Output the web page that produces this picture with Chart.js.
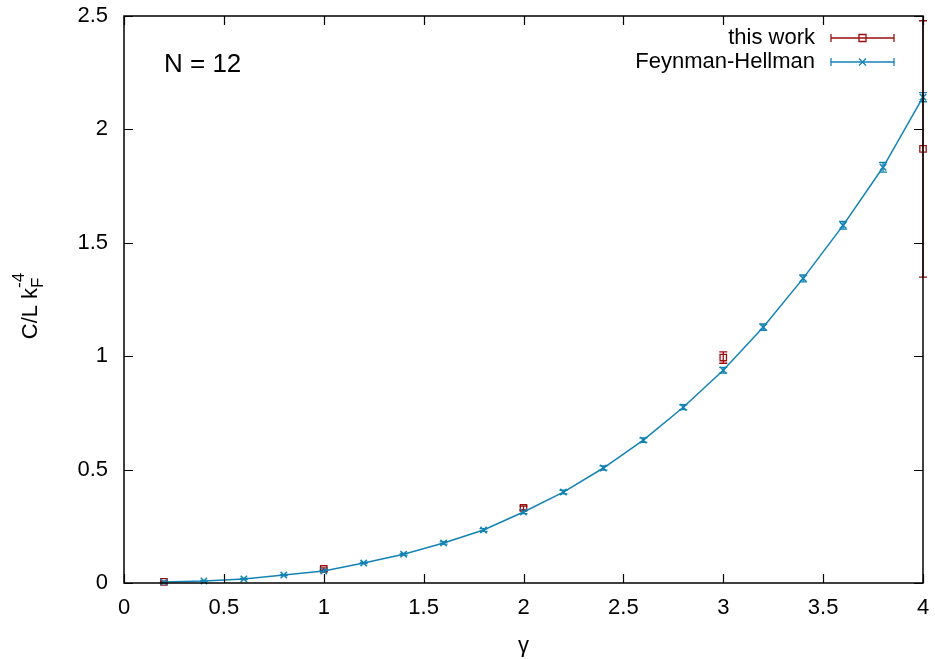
<!DOCTYPE html>
<html>
<head>
<meta charset="utf-8">
<script src="https://cdn.jsdelivr.net/npm/chart.js@4"></script>
<style>
  html, body { margin:0; padding:0; background:#fff; }
  #wrap { width:935px; height:659px; }
</style>
</head>
<body>
<div id="wrap"><canvas id="plot"></canvas></div>
<script>
// Feynman-Hellman series
const fhGamma = [0.2,0.4,0.6,0.8,1.0,1.2,1.4,1.6,1.8,2.0,2.2,2.4,2.6,2.8,3.0,3.2,3.4,3.6,3.8,4.0];
const fhC     = [0.004,0.009,0.018,0.035,0.053,0.088,0.127,0.176,0.234,0.313,0.401,0.507,0.630,0.775,0.938,1.128,1.343,1.577,1.833,2.142];
const fhErr   = [0.001,0.001,0.002,0.002,0.003,0.003,0.004,0.005,0.006,0.007,0.008,0.009,0.010,0.011,0.013,0.014,0.015,0.017,0.021,0.020];
// this work
const twGamma = [0.2,1.0,2.0,3.0,4.0];
const twC     = [0.005,0.062,0.331,0.994,1.914];
const twErr   = [0.003,0.005,0.008,0.025,0.565];

const xTicks = [0,0.5,1,1.5,2,2.5,3,3.5,4];
const yTicks = [0,0.5,1,1.5,2,2.5];

const RED = '#9a0f0f';
const BLUE = '#1283b4';
const FONT = '"Liberation Sans", Arial, sans-serif';

function pts(xs, ys){ return xs.map((x,i)=>({x:x, y:ys[i]})); }

// error bars, frame, inward ticks, tick labels, legend, titles
const gnuplotLook = {
  id:'gnuplotLook',
  beforeDatasetsDraw(chart){
    const ctx = chart.ctx, xs = chart.scales.x, ys = chart.scales.y;
    chart.data.datasets.forEach(ds=>{
      if(!ds.err) return;
      ctx.save();
      ctx.strokeStyle = ds.borderColor;
      ctx.lineWidth = 1.3;
      ds.data.forEach((p,i)=>{
        const px = xs.getPixelForValue(p.x);
        const y1 = ys.getPixelForValue(p.y + ds.err[i]);
        const y2 = ys.getPixelForValue(p.y - ds.err[i]);
        ctx.beginPath();
        ctx.moveTo(px,y1); ctx.lineTo(px,y2);
        ctx.moveTo(px-4,y1); ctx.lineTo(px+4,y1);
        ctx.moveTo(px-4,y2); ctx.lineTo(px+4,y2);
        ctx.stroke();
      });
      ctx.restore();
    });
  },
  afterDraw(chart){
    const ctx = chart.ctx, a = chart.chartArea;
    const xs = chart.scales.x, ys = chart.scales.y;
    ctx.save();
    ctx.strokeStyle = '#000';
    ctx.lineWidth = 1.5;
    ctx.strokeRect(a.left, a.top, a.right-a.left, a.bottom-a.top);
    ctx.beginPath();
    xTicks.forEach(v=>{
      const px = Math.round(xs.getPixelForValue(v))+0.5;
      ctx.moveTo(px,a.bottom); ctx.lineTo(px,a.bottom-9);
      ctx.moveTo(px,a.top); ctx.lineTo(px,a.top+9);
    });
    yTicks.forEach(v=>{
      const py = Math.round(ys.getPixelForValue(v))+0.5;
      ctx.moveTo(a.left,py); ctx.lineTo(a.left+9,py);
      ctx.moveTo(a.right,py); ctx.lineTo(a.right-9,py);
    });
    ctx.lineWidth = 1.2;
    ctx.stroke();

    // tick labels
    ctx.fillStyle = '#000';
    ctx.font = '22px ' + FONT;
    ctx.textAlign = 'center'; ctx.textBaseline = 'middle';
    xTicks.forEach(v=>{
      ctx.fillText(String(v), xs.getPixelForValue(v), a.bottom + 25);
    });
    ctx.textAlign = 'right';
    yTicks.forEach(v=>{
      ctx.fillText(String(v), a.left - 16, ys.getPixelForValue(v));
    });

    // N = 12
    ctx.font = '26px ' + FONT;
    ctx.textAlign = 'left'; ctx.textBaseline = 'alphabetic';
    ctx.fillText('N = 12', 164, 72);

    // legend
    const rows = [
      {label:'this work', color:RED, y:38, mk:'sq'},
      {label:'Feynman-Hellman', color:BLUE, y:62, mk:'x'}
    ];
    ctx.font = '22px ' + FONT;
    rows.forEach(r=>{
      ctx.fillStyle = '#000';
      ctx.textAlign = 'right'; ctx.textBaseline = 'middle';
      ctx.fillText(r.label, 815, r.y);
      ctx.strokeStyle = r.color; ctx.lineWidth = 1.3;
      ctx.beginPath();
      ctx.moveTo(831, r.y); ctx.lineTo(894, r.y);
      ctx.moveTo(831, r.y-4); ctx.lineTo(831, r.y+4);
      ctx.moveTo(894, r.y-4); ctx.lineTo(894, r.y+4);
      ctx.stroke();
      ctx.beginPath();
      if(r.mk==='sq'){ ctx.rect(859, r.y-3.5, 7, 7); }
      else { ctx.moveTo(859,r.y-3.5); ctx.lineTo(866,r.y+3.5); ctx.moveTo(866,r.y-3.5); ctx.lineTo(859,r.y+3.5); }
      ctx.stroke();
    });

    // x title
    ctx.fillStyle = '#000';
    ctx.font = '22px ' + FONT;
    ctx.textAlign = 'center'; ctx.textBaseline = 'alphabetic';
    ctx.fillText('γ', (a.left+a.right)/2, 652);

    // y title with sub/superscript
    ctx.translate(37, 302);
    ctx.rotate(-Math.PI/2);
    ctx.textAlign = 'left'; ctx.textBaseline = 'alphabetic';
    ctx.font = '22px ' + FONT;
    const main = 'C/L k';
    const w1 = ctx.measureText(main).width;
    ctx.font = '17px ' + FONT;
    const w2 = ctx.measureText('F').width;
    const w3 = ctx.measureText('-4').width;
    const total = w1 + Math.max(w2, w3);
    let x0 = -total/2 - 4;
    ctx.font = '22px ' + FONT;
    ctx.fillText(main, x0, 0);
    ctx.font = '17px ' + FONT;
    ctx.fillText('F', x0 + w1, 6);
    ctx.fillText('-4', x0 + w1, -13);
    ctx.restore();
  }
};

new Chart(document.getElementById('plot'), {
  type:'scatter',
  data:{
    datasets:[
      {
        label:'Feynman-Hellman',
        data: pts(fhGamma, fhC),
        err: fhErr,
        showLine:true,
        borderColor: BLUE,
        backgroundColor: BLUE,
        borderWidth: 1.5,
        pointStyle:'crossRot',
        pointRadius: 4.5,
        pointBorderWidth: 1.5,
        clip: false,
        order: 1
      },
      {
        label:'this work',
        data: pts(twGamma, twC),
        err: twErr,
        showLine:false,
        borderColor: RED,
        backgroundColor: 'rgba(0,0,0,0)',
        pointStyle:'rect',
        pointRadius: 4.5,
        pointBorderWidth: 1.3,
        clip: false,
        order: 2
      }
    ]
  },
  options:{
    responsive:true,
    maintainAspectRatio:false,
    animation:false,
    layout:{ padding:{ left:0, right:12, top:16, bottom:0 } },
    plugins:{ legend:{ display:false }, tooltip:{ enabled:false } },
    scales:{
      x:{
        type:'linear', min:0, max:4,
        afterBuildTicks(s){ s.ticks = xTicks.map(v=>({value:v})); },
        afterFit(s){ s.height = 76; },
        grid:{ display:false },
        border:{ display:false },
        ticks:{ display:false }
      },
      y:{
        type:'linear', min:0, max:2.5,
        afterBuildTicks(s){ s.ticks = yTicks.map(v=>({value:v})); },
        afterFit(s){ s.width = 124; },
        grid:{ display:false },
        border:{ display:false },
        ticks:{ display:false }
      }
    }
  },
  plugins:[gnuplotLook]
});
</script>
</body>
</html>
